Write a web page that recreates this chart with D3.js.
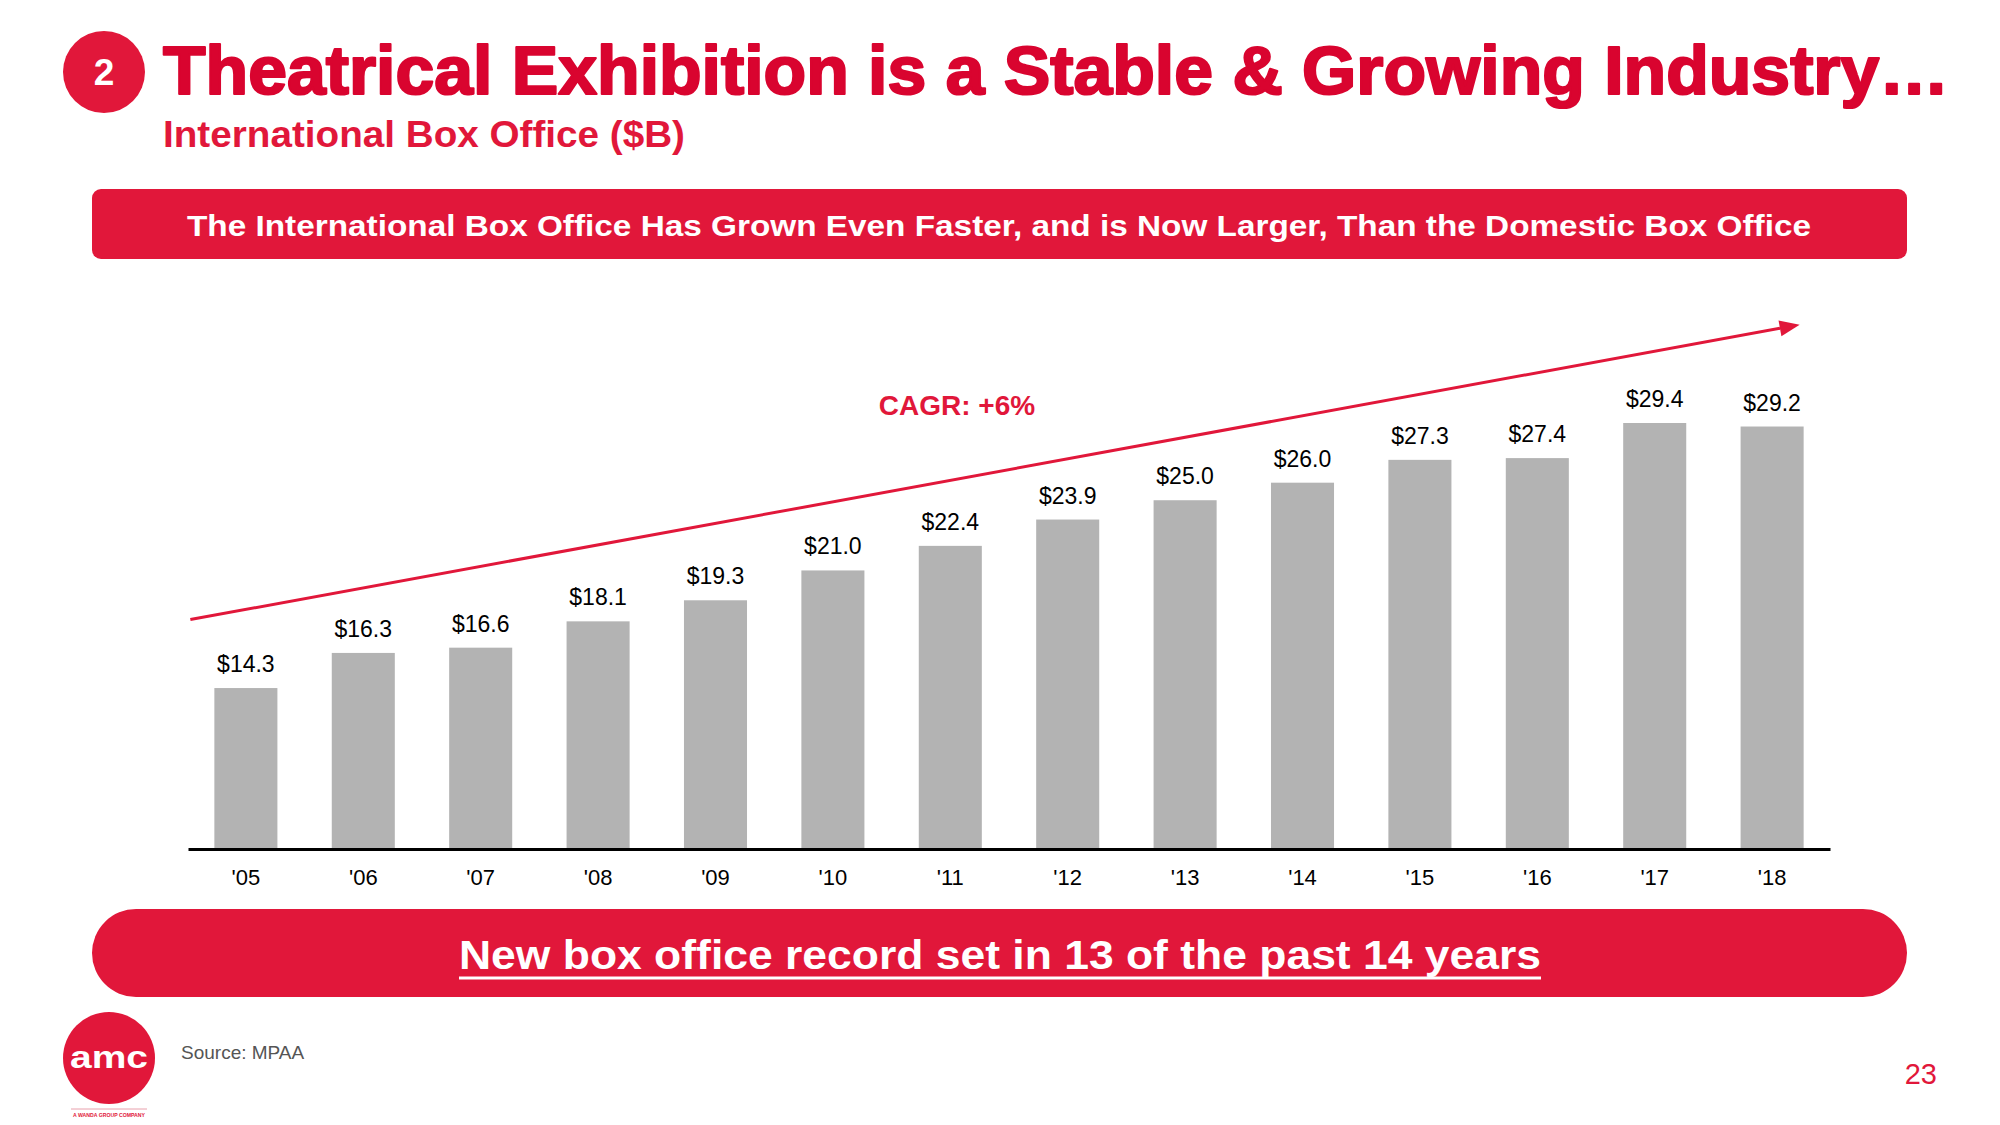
<!DOCTYPE html>
<html>
<head>
<meta charset="utf-8">
<script src="https://cdn.jsdelivr.net/npm/d3@7"></script>
<style>
  html, body { margin: 0; padding: 0; background: #fff; }
  svg { display: block; font-family: "Liberation Sans", Arial, Helvetica, sans-serif; }
</style>
</head>
<body>
<svg id="chart" width="2000" height="1125"></svg>
<script>
// ---- data ----
const years = ["'05","'06","'07","'08","'09","'10","'11","'12","'13","'14","'15","'16","'17","'18"];
const values = [14.3, 16.3, 16.6, 18.1, 19.3, 21.0, 22.4, 23.9, 25.0, 26.0, 27.3, 27.4, 29.4, 29.2];
const valueLabels = ["$14.3","$16.3","$16.6","$18.1","$19.3","$21.0","$22.4","$23.9","$25.0","$26.0","$27.3","$27.4","$29.4","$29.2"];
const trendValues = [18.2, 35.0];   // CAGR arrow start / end (value units)
const titleText = "Theatrical Exhibition is a Stable & Growing Industry…";
const subtitleText = "International Box Office ($B)";
const bannerText = "The International Box Office Has Grown Even Faster, and is Now Larger, Than the Domestic Box Office";
const footerText = "New box office record set in 13 of the past 14 years";
const cagrText = "CAGR: +6%";

const RED = "#e1173a";
const TITLE_RED = "#d9042f";
const svg = d3.select("#chart");

// ---- header ----
svg.append("circle").attr("cx", 104).attr("cy", 72).attr("r", 41).attr("fill", RED);
svg.append("text").attr("x", 104).attr("y", 85).attr("text-anchor", "middle")
  .attr("font-size", 37).attr("font-weight", "bold").attr("fill", "#fff").text("2");
svg.append("text").attr("x", 163).attr("y", 94)
  .attr("font-size", 69).attr("font-weight", "bold").attr("fill", TITLE_RED)
  .attr("stroke", TITLE_RED).attr("stroke-width", 2.2).attr("stroke-linejoin", "round")
  .attr("textLength", 1786).attr("lengthAdjust", "spacingAndGlyphs").text(titleText);
svg.append("text").attr("x", 163).attr("y", 147)
  .attr("font-size", 37).attr("font-weight", "bold").attr("fill", RED)
  .attr("textLength", 522).attr("lengthAdjust", "spacingAndGlyphs").text(subtitleText);

// top banner
svg.append("rect").attr("x", 92).attr("y", 189).attr("width", 1815).attr("height", 70)
  .attr("rx", 9).attr("fill", RED);
svg.append("text").attr("x", 999).attr("y", 236).attr("text-anchor", "middle")
  .attr("font-size", 29).attr("font-weight", "bold").attr("fill", "#fff")
  .attr("textLength", 1624).attr("lengthAdjust", "spacingAndGlyphs").text(bannerText);

// ---- chart ----
const x = d3.scaleBand().domain(years).range([188, 1830]).paddingInner(0.463).paddingOuter(0.2245);
const y = d3.scaleLinear().domain([5.13, 29.4]).range([849, 423]);

const g = svg.append("g");
g.selectAll("rect.bar").data(values).join("rect").attr("class", "bar")
  .attr("x", (d, i) => x(years[i]))
  .attr("width", x.bandwidth())
  .attr("y", d => y(d))
  .attr("height", d => y(y.domain()[0]) - y(d))
  .attr("fill", "#b3b3b3");

g.selectAll("text.vlab").data(values).join("text").attr("class", "vlab")
  .attr("x", (d, i) => x(years[i]) + x.bandwidth() / 2)
  .attr("y", d => y(d) - 16)
  .attr("text-anchor", "middle").attr("font-size", 23).attr("fill", "#000")
  .text((d, i) => valueLabels[i]);

// x axis
const xAxis = d3.axisBottom(x).tickSize(0).tickPadding(20);
const ax = svg.append("g").attr("transform", `translate(0,${y(y.domain()[0])})`).call(xAxis);
ax.select(".domain").attr("stroke", "#000").attr("stroke-width", 3);
ax.selectAll(".tick text").attr("font-size", 22).attr("fill", "#000")
  .attr("font-family", "'Liberation Sans', Arial, sans-serif");

// CAGR trend arrow
const tx1 = x(years[0]) - 24;
const tx2 = x(years[years.length - 1]) + x.bandwidth() - 4;
const ty1 = y(trendValues[0]);
const ty2 = y(trendValues[1]);
const ang = Math.atan2(ty2 - ty1, tx2 - tx1);
const headLen = 20, headW = 8;
const bx = tx2 - headLen * Math.cos(ang), by = ty2 - headLen * Math.sin(ang);
svg.append("line").attr("x1", tx1).attr("y1", ty1).attr("x2", bx).attr("y2", by)
  .attr("stroke", RED).attr("stroke-width", 3);
svg.append("polygon").attr("fill", RED).attr("points", [
  [tx2, ty2],
  [bx + headW * Math.sin(ang), by - headW * Math.cos(ang)],
  [bx - headW * Math.sin(ang), by + headW * Math.cos(ang)]
].map(p => p.join(",")).join(" "));
svg.append("text").attr("x", 957).attr("y", 415).attr("text-anchor", "middle")
  .attr("font-size", 28).attr("font-weight", "bold").attr("fill", RED).text(cagrText);

// ---- footer banner ----
svg.append("rect").attr("x", 92).attr("y", 909).attr("width", 1815).attr("height", 88)
  .attr("rx", 44).attr("ry", 44).attr("fill", RED);
svg.append("text").attr("x", 1000).attr("y", 969).attr("text-anchor", "middle")
  .attr("font-size", 40).attr("font-weight", "bold").attr("fill", "#fff")
  .attr("textLength", 1082).attr("lengthAdjust", "spacingAndGlyphs").text(footerText);
svg.append("line").attr("x1", 459).attr("x2", 1541).attr("y1", 978).attr("y2", 978)
  .attr("stroke", "#fff").attr("stroke-width", 3);

// ---- logo & footnotes ----
svg.append("circle").attr("cx", 109).attr("cy", 1058).attr("r", 46).attr("fill", RED);
svg.append("text").attr("x", 109).attr("y", 1068).attr("text-anchor", "middle")
  .attr("font-size", 32).attr("font-weight", "bold").attr("fill", "#fff")
  .attr("textLength", 78).attr("lengthAdjust", "spacingAndGlyphs").text("amc");
svg.append("line").attr("x1", 71).attr("x2", 147).attr("y1", 1109).attr("y2", 1109)
  .attr("stroke", "#e8a0ac").attr("stroke-width", 1);
svg.append("text").attr("x", 109).attr("y", 1117).attr("text-anchor", "middle")
  .attr("font-size", 5).attr("font-weight", "bold").attr("fill", RED)
  .attr("textLength", 72).attr("lengthAdjust", "spacingAndGlyphs").text("A WANDA GROUP COMPANY");
svg.append("text").attr("x", 181).attr("y", 1059)
  .attr("font-size", 19).attr("fill", "#555").text("Source: MPAA");
svg.append("text").attr("x", 1937).attr("y", 1084).attr("text-anchor", "end")
  .attr("font-size", 29).attr("fill", RED).text("23");
</script>
</body>
</html>
